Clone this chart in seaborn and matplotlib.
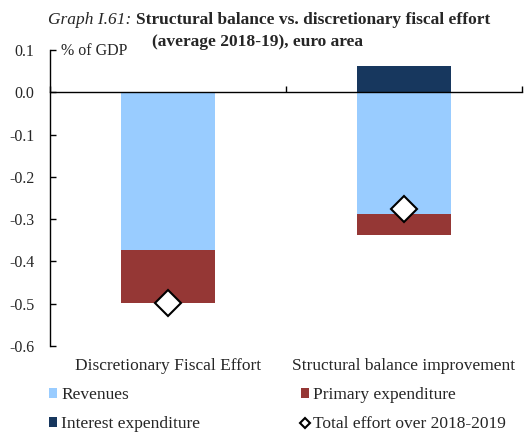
import numpy as np
import seaborn as sns
import matplotlib.pyplot as plt
from matplotlib.patches import Patch
from matplotlib.lines import Line2D

categories = ["Discretionary Fiscal Effort", "Structural balance improvement"]
revenues = [-0.373, -0.287]
primary_exp = [-0.126, -0.050]
interest_exp = [0.0, 0.062]
total_effort = [-0.498, -0.276]
y_ticks = [-0.6, -0.5, -0.4, -0.3, -0.2, -0.1, 0.0, 0.1]

c_rev = "#99CCFF"
c_prim = "#953735"
c_int = "#17375E"

sns.set_style("ticks")
plt.rcParams["font.family"] = ["Liberation Serif", "DejaVu Serif"]
plt.rcParams["axes.unicode_minus"] = False

fig = plt.figure(figsize=(5.32, 4.32), dpi=100)
ax = fig.add_axes([50 / 532, 1 - 346 / 432, 472 / 532, 296 / 432])

sns.barplot(x=categories, y=revenues, color=c_rev, saturation=1, width=0.4,
            linewidth=0, errorbar=None, ax=ax)
sns.barplot(x=categories, y=primary_exp, bottom=revenues, color=c_prim, saturation=1,
            width=0.4, linewidth=0, errorbar=None, ax=ax)
sns.barplot(x=categories, y=interest_exp, color=c_int, saturation=1, width=0.4,
            linewidth=0, errorbar=None, ax=ax)
sns.pointplot(x=categories, y=total_effort, linestyle="none", markers="D", color="black",
              markerfacecolor="white", markeredgecolor="black", markeredgewidth=1.5,
              markersize=13, errorbar=None, zorder=5, ax=ax)

ax.set_xlim(-0.5, 1.5)
ax.set_ylim(-0.6, 0.1)
ax.set_yticks(y_ticks, [f"{v:.1f}" for v in y_ticks])
ax.tick_params(axis="y", direction="in", length=4, width=1, pad=11, labelsize=11.5, color="black")

# eixo x passa no zero, rotulos ficam em baixo
ax.spines["bottom"].set_position(("data", 0))
ax.spines["top"].set_visible(False)
ax.spines["right"].set_visible(False)
for s in ["left", "bottom"]:
    ax.spines[s].set_color("black")
    ax.spines[s].set_linewidth(1)
ax.set_xticks([-0.5, 0.5, 1.5], ["", "", ""])
ax.tick_params(axis="x", direction="in", length=4, width=1, color="black")
ax.set_xlabel("")
ax.set_ylabel("")

sec = ax.secondary_xaxis("bottom")
sec.set_xticks([0, 1], categories)
sec.tick_params(length=0, pad=9, labelsize=12.5)
sec.spines["bottom"].set_visible(False)

ax.text(0.023, 0.995, "% of GDP", transform=ax.transAxes, va="center", ha="left", fontsize=11.5)

# titulo: parte italica + parte negrito
r = fig.canvas.get_renderer()
t1 = fig.text(0, 0, "Graph I.61: ", fontsize=12.5, style="italic")
t2 = fig.text(0, 0, "Structural balance vs. discretionary fiscal effort", fontsize=12.5, fontweight="bold")
w1 = t1.get_window_extent(r).width
w2 = t2.get_window_extent(r).width
x0 = 269 - (w1 + w2) / 2
y1 = 1 - 20 / 432
t1.set_position((x0 / 532, y1))
t1.set_va("center")
t2.set_position(((x0 + w1) / 532, y1))
t2.set_va("center")
fig.text(258 / 532, 1 - 42 / 432, "(average 2018-19), euro area", fontsize=12.5,
         fontweight="bold", ha="center", va="center")

handles = [
    Patch(facecolor=c_rev, edgecolor="none"),
    Patch(facecolor=c_int, edgecolor="none"),
    Patch(facecolor=c_prim, edgecolor="none"),
    Line2D([], [], marker="D", linestyle="none", markerfacecolor="white",
           markeredgecolor="black", markeredgewidth=1.5, markersize=5),
]
labels = ["Revenues", "Interest expenditure", "Primary expenditure", "Total effort over 2018-2019"]
fig.legend(handles, labels, ncol=2, loc="upper left", bbox_to_anchor=(49 / 532, 1 - 387 / 432),
           frameon=False, fontsize=12.5, handlelength=0.46, handleheight=0.46, handletextpad=0.23,
           columnspacing=5.8, labelspacing=0.75, borderpad=0, borderaxespad=0)

plt.savefig("out.png", dpi=100)
